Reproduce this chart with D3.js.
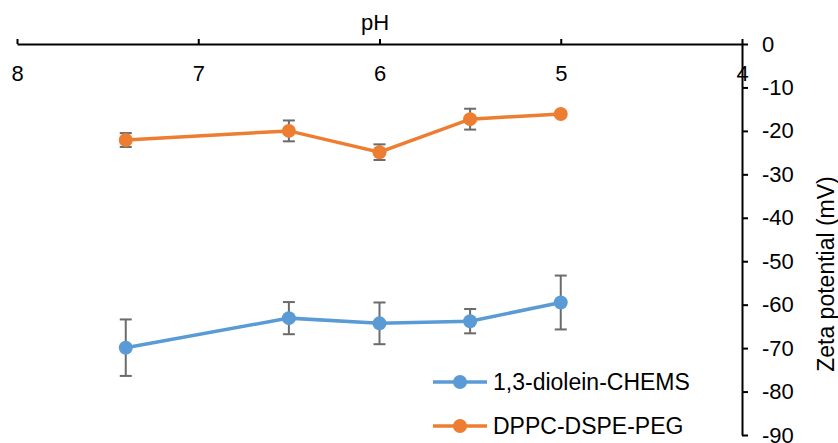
<!DOCTYPE html>
<html>
<head>
<meta charset="utf-8">
<script src="https://cdn.jsdelivr.net/npm/d3@7"></script>
<style>
  body { margin: 0; background: #fff; }
  svg { font-family: "Liberation Sans", Arial, sans-serif; }
</style>
</head>
<body>
<div id="chart"></div>
<script>
// data
var pH = [7.4, 6.5, 6.0, 5.5, 5.0]
var seriesNames = ["1,3-diolein-CHEMS", "DPPC-DSPE-PEG"]
var seriesColors = ["#5B9BD5", "#ED7D31"]
var dioleinVals = [-69.9, -63.1, -64.3, -63.8, -59.5]
var dioleinErr = [6.5, 3.7, 4.8, 2.8, 6.2]
var dppcVals = [-22.1, -20.0, -24.9, -17.3, -16.1]
var dppcErr = [1.6, 2.4, 1.8, 2.4, 0.4]
var xTicks = [8, 7, 6, 5, 4]
var yTicks = [0, -10, -20, -30, -40, -50, -60, -70, -80, -90]

var width = 838, height = 443

var svg = d3.select("#chart")
  .append("svg")
    .attr("width", width)
    .attr("height", height)

// plain hyphen for negatives, like the original
var plain = function(d) { return String(d) }

// pH runs backwards, 8 on the left
var x = d3.scaleLinear()
  .domain([8, 4])
  .range([17, 742])

var y = d3.scaleLinear()
  .domain([0, -90])
  .range([44, 435])

// x axis along the top, ticks pointing up, labels under the line
var xAxis = svg.append("g")
  .attr("transform", "translate(0," + y(0) + ")")
  .call(d3.axisTop(x).tickValues(xTicks).tickSize(5).tickSizeOuter(0).tickFormat(plain))
xAxis.select(".domain").attr("stroke", "#000").attr("stroke-width", 2)
xAxis.selectAll(".tick line").attr("stroke", "#000").attr("stroke-width", 2)
xAxis.selectAll(".tick text")
  .attr("y", 29)
  .attr("dy", "0.35em")
  .attr("fill", "#000")
  .style("font-size", "22px")

// y axis on the right at pH 4
var yAxis = svg.append("g")
  .attr("transform", "translate(" + x(4) + ",0)")
  .call(d3.axisRight(y).tickValues(yTicks).tickSize(6).tickSizeOuter(0).tickPadding(14).tickFormat(plain))
yAxis.select(".domain").attr("stroke", "#000").attr("stroke-width", 2)
yAxis.selectAll(".tick line").attr("stroke", "#000").attr("stroke-width", 2)
yAxis.selectAll(".tick text")
  .attr("fill", "#000")
  .style("font-size", "22px")

svg.append("text")
  .attr("x", 375)
  .attr("y", 30)
  .attr("text-anchor", "middle")
  .style("font-size", "22px")
  .text("pH")

svg.append("text")
  .attr("transform", "translate(834,274) rotate(-90)")
  .attr("text-anchor", "middle")
  .style("font-size", "23px")
  .text("Zeta potential (mV)")

var makeSeries = function(vals, errs) {
  return pH.map(function(p, i) { return {ph: p, v: vals[i], e: errs[i]} })
}
var allSeries = [makeSeries(dioleinVals, dioleinErr), makeSeries(dppcVals, dppcErr)]

var line = d3.line()
  .x(function(d) { return x(d.ph) })
  .y(function(d) { return y(d.v) })

allSeries.forEach(function(s, k) {
  var g = svg.append("g")

  // error bars
  var eb = g.selectAll(".err")
    .data(s)
    .enter()
    .append("g")
    .attr("stroke", "#6b6b6b")
    .attr("stroke-width", 2)
  eb.append("line")
    .attr("x1", function(d) { return x(d.ph) })
    .attr("x2", function(d) { return x(d.ph) })
    .attr("y1", function(d) { return y(d.v + d.e) })
    .attr("y2", function(d) { return y(d.v - d.e) })
  eb.append("line")
    .attr("x1", function(d) { return x(d.ph) - 6 })
    .attr("x2", function(d) { return x(d.ph) + 6 })
    .attr("y1", function(d) { return y(d.v + d.e) })
    .attr("y2", function(d) { return y(d.v + d.e) })
  eb.append("line")
    .attr("x1", function(d) { return x(d.ph) - 6 })
    .attr("x2", function(d) { return x(d.ph) + 6 })
    .attr("y1", function(d) { return y(d.v - d.e) })
    .attr("y2", function(d) { return y(d.v - d.e) })

  g.append("path")
    .datum(s)
    .attr("fill", "none")
    .attr("stroke", seriesColors[k])
    .attr("stroke-width", 3.5)
    .attr("d", line)

  g.selectAll("circle")
    .data(s)
    .enter()
    .append("circle")
    .attr("cx", function(d) { return x(d.ph) })
    .attr("cy", function(d) { return y(d.v) })
    .attr("r", 7)
    .attr("fill", seriesColors[k])
})

// legend
var legend = svg.selectAll(".legend")
  .data(seriesNames)
  .enter()
  .append("g")
  .attr("transform", function(d, i) { return "translate(433," + (382 + i * 44) + ")" })
legend.append("line")
  .attr("x1", 0).attr("x2", 54)
  .attr("stroke", function(d, i) { return seriesColors[i] })
  .attr("stroke-width", 3.5)
legend.append("circle")
  .attr("cx", 27)
  .attr("r", 7)
  .attr("fill", function(d, i) { return seriesColors[i] })
legend.append("text")
  .attr("x", 60)
  .attr("dy", "0.35em")
  .style("font-size", "23px")
  .text(function(d) { return d })
</script>
</body>
</html>
